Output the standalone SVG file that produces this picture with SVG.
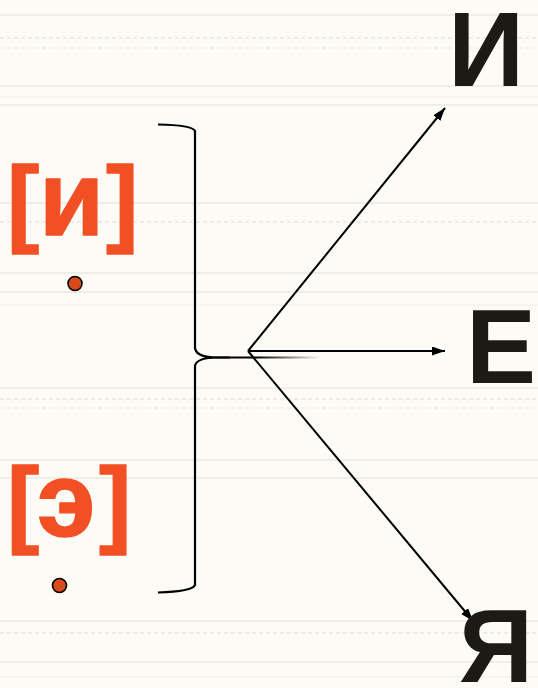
<svg xmlns="http://www.w3.org/2000/svg" width="538" height="688" viewBox="0 0 538 688">
<defs>
<style>
.bg{fill:#FCFBF5}
.rule{stroke:#EEEDE6;stroke-width:2;fill:none}
.rule2{stroke:#F3F2EB;stroke-width:1.5;fill:none}
.dot{stroke:#ECEBE4;stroke-width:2;stroke-dasharray:4 3;fill:none}
.red{fill:#F25024;stroke:#F25024;stroke-width:1.4;stroke-linejoin:round;font-family:"Liberation Sans",Arial,sans-serif;font-weight:bold}
.big{fill:#1C1A15;font-family:"Liberation Sans",Arial,sans-serif;font-weight:bold;text-anchor:middle}
.conn{stroke:#000;stroke-width:2;fill:none}
.brace{stroke:#000;stroke-width:2.2;fill:none}
.pt{fill:#D84A1B;stroke:#000;stroke-width:1.6}
</style>
<marker id="ah" markerUnits="userSpaceOnUse" markerWidth="14" markerHeight="10" refX="13" refY="4.5" orient="auto">
<path d="M0,0 L13,4.5 L0,9 z" fill="#000"/>
</marker>
<linearGradient id="tail" gradientUnits="userSpaceOnUse" x1="205" y1="0" x2="320" y2="0">
<stop offset="0" stop-color="#000"/>
<stop offset="0.45" stop-color="#000"/>
<stop offset="1" stop-color="#000" stop-opacity="0"/>
</linearGradient>
</defs>
<rect class="bg" x="0" y="0" width="538" height="688"/>
<g id="background">
<line class="rule" x1="0" y1="15" x2="538" y2="15"/>
<line class="dot" x1="0" y1="38" x2="538" y2="38"/>
<line class="dot" x1="0" y1="48" x2="538" y2="48" stroke-opacity="0.6"/>
<line class="rule" x1="0" y1="86" x2="538" y2="86"/>
<line class="rule2" x1="0" y1="97" x2="538" y2="97"/>
<line class="rule" x1="0" y1="105" x2="538" y2="105"/>
<line class="rule" x1="0" y1="203" x2="538" y2="203"/>
<line class="dot" x1="0" y1="222" x2="538" y2="222"/>
<line class="rule" x1="0" y1="273" x2="538" y2="273"/>
<line class="rule" x1="0" y1="292" x2="538" y2="292"/>
<line class="rule2" x1="0" y1="305" x2="538" y2="305"/>
<line class="rule" x1="0" y1="388" x2="538" y2="388"/>
<line class="dot" x1="0" y1="399" x2="538" y2="399"/>
<line class="dot" x1="0" y1="408" x2="538" y2="408" stroke-opacity="0.6"/>
<line class="rule" x1="0" y1="460" x2="538" y2="460"/>
<line class="rule" x1="0" y1="478" x2="538" y2="478"/>
<line class="rule" x1="0" y1="621" x2="538" y2="621"/>
<line class="dot" x1="0" y1="633" x2="538" y2="633"/>
<line class="rule" x1="0" y1="662" x2="538" y2="662"/>
<line class="rule2" x1="0" y1="677" x2="538" y2="677"/>
</g>
<g id="sound-i">
<text class="red" y="235"><tspan x="7" font-size="97" dy="-1">[</tspan><tspan x="39" font-size="106" dy="1">и</tspan><tspan x="106" font-size="97" dy="-1">]</tspan></text>
<circle class="pt" cx="75" cy="283.5" r="7"/>
</g>
<g id="sound-e">
<text class="red" y="536"><tspan x="7" font-size="97" dy="-1">[</tspan><tspan x="37" font-size="106" dy="1">э</tspan><tspan x="99" font-size="97" dy="-1">]</tspan></text>
<circle class="pt" cx="59.5" cy="585.5" r="7"/>
</g>
<g id="brace">
<path class="brace" d="M158,124.5 Q192,125 195,131 L195,348 Q196,356 212,357.5 L230,357.5"/>
<path class="brace" d="M212,357.5 Q196,359 195,366 L195,585 Q192,591.5 158,592.5"/>
<line x1="205" y1="357.5" x2="320" y2="357.5" stroke="url(#tail)" stroke-width="2.2"/>
</g>
<g id="connectors">
<line class="conn" x1="248" y1="351" x2="445" y2="108" marker-end="url(#ah)"/>
<line class="conn" x1="248" y1="351" x2="445" y2="351" marker-end="url(#ah)"/>
<line class="conn" x1="248" y1="351" x2="473" y2="621" marker-end="url(#ah)"/>
</g>
<g id="letter-i"><text class="big" x="486" y="86" font-size="106">И</text></g>
<g id="letter-e"><text class="big" x="501" y="383" font-size="105">Е</text></g>
<g id="letter-ya"><text class="big" x="496" y="682" font-size="103">Я</text></g>
</svg>
